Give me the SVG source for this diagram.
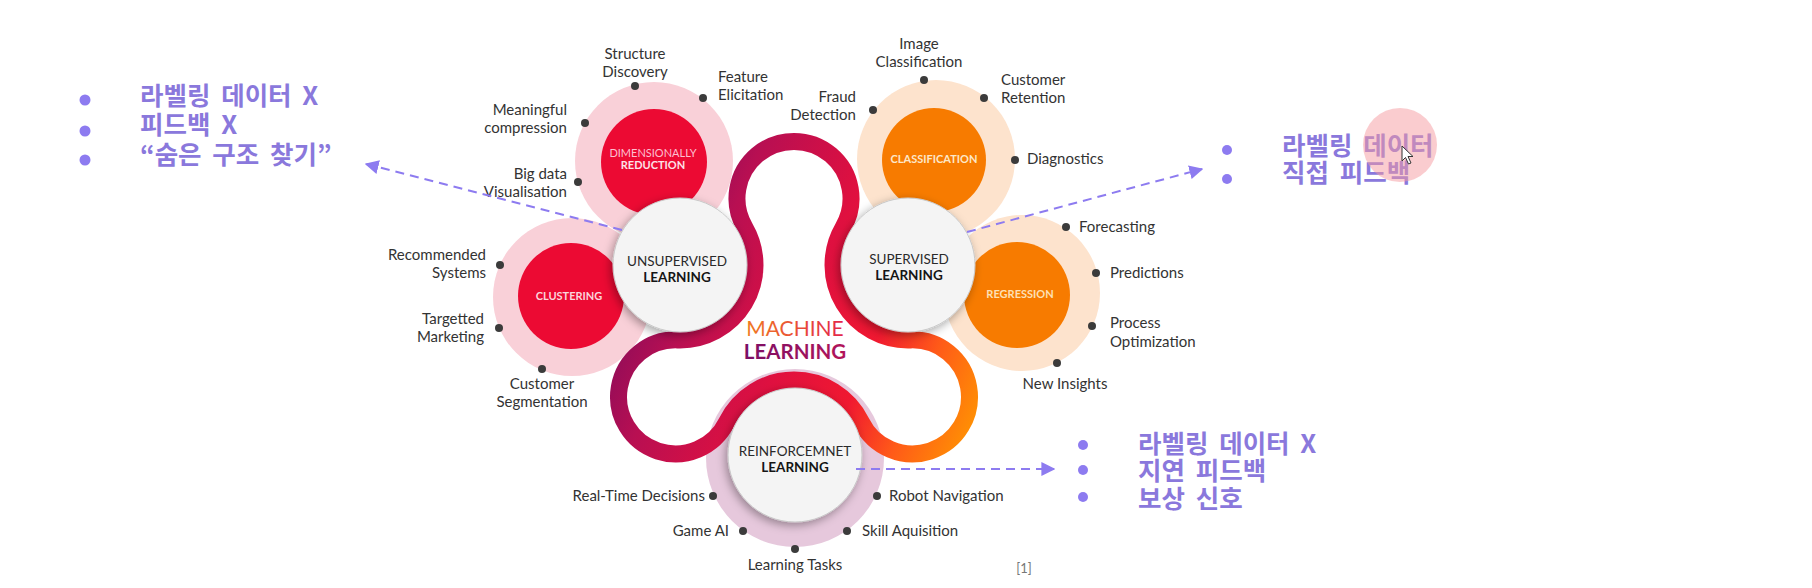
<svg xmlns="http://www.w3.org/2000/svg" width="1812" height="588" viewBox="0 0 1812 588">
<defs>
<style>
.pinkRing{fill:#f9d0d8}
.orRing{fill:#fde3cd}
.red{fill:#ec0a33}
.orange{fill:#f77b00}
.hub{fill:#f4f4f4;stroke:#c9c9c9;stroke-width:1}
.lbl{font-family:Lato,"Liberation Sans",sans-serif;font-size:15px;fill:#333}
.dot{fill:#3b3b3b}
.hubT{font-family:Lato,"Liberation Sans",sans-serif;font-size:13.5px;fill:#2a2a2a;text-anchor:middle}
.hubB{font-family:Lato,"Liberation Sans",sans-serif;font-size:13.5px;font-weight:700;fill:#151515;text-anchor:middle}
.inT{font-family:Lato,"Liberation Sans",sans-serif;font-size:11px;font-weight:700;text-anchor:middle}
.inR{font-family:Lato,"Liberation Sans",sans-serif;font-size:11px;font-weight:400;text-anchor:middle}
.kr{font-family:"Noto Sans CJK KR",sans-serif;font-size:25.5px;font-weight:700;fill:#8a78dc;word-spacing:5px}
.bul{fill:#8d7bf0}
.dash{fill:none;stroke:#8d7bf0;stroke-width:2;stroke-dasharray:9 6}
</style>
<linearGradient id="rib" gradientUnits="userSpaceOnUse" x1="600" y1="250" x2="990" y2="420">
<stop offset="0" stop-color="#6e0a5f"/>
<stop offset="0.25" stop-color="#b80f52"/>
<stop offset="0.5" stop-color="#e0103f"/>
<stop offset="0.68" stop-color="#f01830"/>
<stop offset="0.82" stop-color="#ff5a18"/>
<stop offset="1" stop-color="#ff9a00"/>
</linearGradient>
<linearGradient id="mach" x1="0" y1="0" x2="1" y2="0">
<stop offset="0" stop-color="#f07a22"/>
<stop offset="1" stop-color="#e3264a"/>
</linearGradient>
<linearGradient id="lrn" x1="0" y1="0" x2="1" y2="0">
<stop offset="0" stop-color="#7a0e66"/>
<stop offset="1" stop-color="#b3145a"/>
</linearGradient>
<filter id="sh" x="-30%" y="-30%" width="160%" height="160%">
<feDropShadow dx="-2" dy="3" stdDeviation="5" flood-color="#000" flood-opacity="0.35"/>
</filter>
<marker id="arr" viewBox="0 0 10 10" refX="9" refY="5" markerWidth="7" markerHeight="7" orient="auto" markerUnits="strokeWidth">
<path d="M0,0 L10,5 L0,10 z" fill="#8d7bf0"/>
</marker>
</defs>
<rect width="1812" height="588" fill="#ffffff"/>

<g id="dimensionally-reduction">
<circle class="pinkRing" cx="654" cy="161" r="79"/>
<circle class="red" cx="654" cy="162" r="53"/>
<text class="inR" x="653" y="157" fill="#fdbfd0">DIMENSIONALLY</text>
<text class="inT" x="653" y="169" fill="#fde2e8">REDUCTION</text>
</g>
<g id="clustering">
<circle class="pinkRing" cx="572" cy="297" r="79"/>
<circle class="red" cx="571" cy="296" r="53"/>
<text class="inT" x="569" y="300" fill="#fbd5dc">CLUSTERING</text>
</g>
<g id="classification">
<circle class="orRing" cx="936" cy="159" r="79"/>
<circle class="orange" cx="934" cy="160" r="52"/>
<text class="inT" x="934" y="163" fill="#fde7c8">CLASSIFICATION</text>
</g>
<g id="regression">
<circle class="orRing" cx="1022" cy="293" r="78"/>
<circle class="orange" cx="1017" cy="295" r="53"/>
<text class="inT" x="1020" y="298" fill="#fde0b5">REGRESSION</text>
</g>
<g id="reinforcement-ring">
<circle cx="795" cy="458" r="89" fill="#e6c8dc"/>
</g>

<g id="ribbon">
<path d="M 843.2 227.2 A 57 57 0 1 0 744.8 227.2 A 75 75 0 0 1 677.4 339.9 A 57 57 0 1 0 726.7 422.0 A 75 75 0 0 1 861.3 422.0 A 57 57 0 1 0 910.6 339.9 A 75 75 0 0 1 843.2 227.2 Z" fill="none" stroke="url(#rib)" stroke-width="17"/>
</g>

<g id="unsupervised-learning">
<circle class="hub" cx="680" cy="265" r="67" filter="url(#sh)"/>
<text class="hubT" x="677" y="266">UNSUPERVISED</text>
<text class="hubB" x="677" y="282">LEARNING</text>
</g>
<g id="supervised-learning">
<circle class="hub" cx="908" cy="265" r="67" filter="url(#sh)"/>
<text class="hubT" x="909" y="264">SUPERVISED</text>
<text class="hubB" x="909" y="280">LEARNING</text>
</g>
<g id="reinforcement-learning">
<circle class="hub" cx="795" cy="455" r="67" filter="url(#sh)"/>
<text class="hubT" x="795" y="456">REINFORCEMNET</text>
<text class="hubB" x="795" y="472">LEARNING</text>
</g>

<g id="machine-learning">
<text x="795" y="336" text-anchor="middle" font-family="Lato,'Liberation Sans',sans-serif" font-size="21" fill="url(#mach)">MACHINE</text>
<text x="795" y="359" text-anchor="middle" font-family="Lato,'Liberation Sans',sans-serif" font-size="20.5" font-weight="700" fill="url(#lrn)">LEARNING</text>
</g>

<g id="leaves">
<g id="structure-discovery"><circle class="dot" cx="635" cy="86" r="4"/><text class="lbl" x="635" y="59" text-anchor="middle">Structure</text><text class="lbl" x="635" y="77" text-anchor="middle">Discovery</text></g>
<g id="feature-elicitation"><circle class="dot" cx="703" cy="98" r="4"/><text class="lbl" x="718" y="82">Feature</text><text class="lbl" x="718" y="100">Elicitation</text></g>
<g id="meaningful-compression"><circle class="dot" cx="585" cy="123" r="4"/><text class="lbl" x="567" y="115" text-anchor="end">Meaningful</text><text class="lbl" x="567" y="133" text-anchor="end">compression</text></g>
<g id="big-data"><circle class="dot" cx="578" cy="182" r="4"/><text class="lbl" x="567" y="179" text-anchor="end">Big data</text><text class="lbl" x="567" y="197" text-anchor="end">Visualisation</text></g>
<g id="recommended-systems"><circle class="dot" cx="500" cy="265" r="4"/><text class="lbl" x="486" y="260" text-anchor="end">Recommended</text><text class="lbl" x="486" y="278" text-anchor="end">Systems</text></g>
<g id="targetted-marketing"><circle class="dot" cx="499" cy="328" r="4"/><text class="lbl" x="484" y="324" text-anchor="end">Targetted</text><text class="lbl" x="484" y="342" text-anchor="end">Marketing</text></g>
<g id="customer-segmentation"><circle class="dot" cx="542" cy="369" r="4"/><text class="lbl" x="542" y="389" text-anchor="middle">Customer</text><text class="lbl" x="542" y="407" text-anchor="middle">Segmentation</text></g>
<g id="image-classification"><circle class="dot" cx="924" cy="80" r="4"/><text class="lbl" x="919" y="49" text-anchor="middle">Image</text><text class="lbl" x="919" y="67" text-anchor="middle">Classification</text></g>
<g id="customer-retention"><circle class="dot" cx="984" cy="98" r="4"/><text class="lbl" x="1001" y="85">Customer</text><text class="lbl" x="1001" y="103">Retention</text></g>
<g id="fraud-detection"><circle class="dot" cx="873" cy="110" r="4"/><text class="lbl" x="856" y="102" text-anchor="end">Fraud</text><text class="lbl" x="856" y="120" text-anchor="end">Detection</text></g>
<g id="diagnostics"><circle class="dot" cx="1015" cy="160" r="4"/><text class="lbl" x="1027" y="164">Diagnostics</text></g>
<g id="forecasting"><circle class="dot" cx="1066" cy="227" r="4"/><text class="lbl" x="1079" y="232">Forecasting</text></g>
<g id="predictions"><circle class="dot" cx="1096" cy="273" r="4"/><text class="lbl" x="1110" y="278">Predictions</text></g>
<g id="process-optimization"><circle class="dot" cx="1092" cy="326" r="4"/><text class="lbl" x="1110" y="328">Process</text><text class="lbl" x="1110" y="347">Optimization</text></g>
<g id="new-insights"><circle class="dot" cx="1057" cy="363" r="4"/><text class="lbl" x="1065" y="389" text-anchor="middle">New Insights</text></g>
<g id="real-time-decisions"><circle class="dot" cx="713" cy="496" r="4"/><text class="lbl" x="705" y="501" text-anchor="end">Real-Time Decisions</text></g>
<g id="game-ai"><circle class="dot" cx="743" cy="531" r="4"/><text class="lbl" x="729" y="536" text-anchor="end">Game AI</text></g>
<g id="learning-tasks"><circle class="dot" cx="795" cy="549" r="4"/><text class="lbl" x="795" y="570" text-anchor="middle">Learning Tasks</text></g>
<g id="skill-aquisition"><circle class="dot" cx="847" cy="531" r="4"/><text class="lbl" x="862" y="536">Skill Aquisition</text></g>
<g id="robot-navigation"><circle class="dot" cx="877" cy="496" r="4"/><text class="lbl" x="889" y="501">Robot Navigation</text></g>
</g>

<g id="connectors">
<line class="dash" x1="622" y1="230" x2="366" y2="164" marker-end="url(#arr)"/>
<line class="dash" x1="967" y1="232" x2="1202" y2="169" marker-end="url(#arr)"/>
<line class="dash" x1="856" y1="469" x2="1054" y2="469" marker-end="url(#arr)"/>
</g>

<g id="note-unsupervised">
<circle class="bul" cx="85" cy="100" r="5.5"/>
<circle class="bul" cx="85" cy="131" r="5.5"/>
<circle class="bul" cx="85" cy="160" r="5.5"/>
<text class="kr" x="140" y="105">라벨링 데이터 X</text>
<text class="kr" x="140" y="134">피드백 X</text>
<text class="kr" x="140" y="164">“숨은 구조 찾기”</text>
</g>
<g id="note-supervised">
<circle class="bul" cx="1227" cy="150" r="5"/>
<circle class="bul" cx="1227" cy="179" r="5"/>
<text class="kr" x="1282" y="155">라벨링 데이터</text>
<text class="kr" x="1282" y="182">직접 피드백</text>
</g>
<g id="note-reinforcement">
<circle class="bul" cx="1083" cy="445" r="5"/>
<circle class="bul" cx="1083" cy="470" r="5"/>
<circle class="bul" cx="1083" cy="497" r="5"/>
<text class="kr" x="1138" y="453">라벨링 데이터 X</text>
<text class="kr" x="1138" y="480">지연 피드백</text>
<text class="kr" x="1138" y="508">보상 신호</text>
</g>

<g id="cursor-highlight">
<circle cx="1400" cy="145" r="37" fill="#f59a9f" opacity="0.5"/>
<path d="M1402 146 L1402 161 L1405.5 157.5 L1408.5 164 L1411 163 L1408 156.5 L1413 156.5 Z" fill="#ffffff" stroke="#333" stroke-width="1"/>
</g>

<text x="1024" y="573" text-anchor="middle" font-family="Lato,'Liberation Sans',sans-serif" font-size="13" fill="#777">[1]</text>
</svg>
